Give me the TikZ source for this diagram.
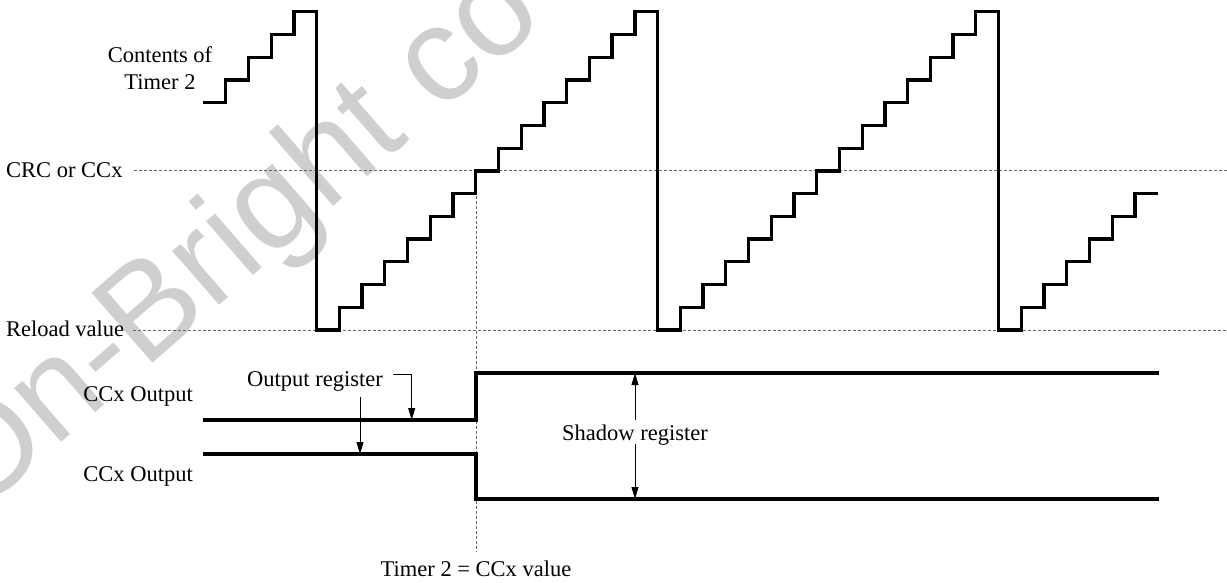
\documentclass[tikz,border=0pt]{standalone}
\usepackage{fontspec}
\setmainfont{Liberation Serif}
\newfontfamily\wmfont{Liberation Sans}
\usetikzlibrary{arrows.meta}
\begin{document}
\begin{tikzpicture}[x=1bp,y=-1bp,
  wave/.style={line width=3.3bp, line join=miter},
  guide/.style={line width=1bp, black!60, dash pattern=on 3bp off 2bp},
  arr/.style={line width=0.8bp, -{Triangle[length=12bp,width=7bp]}},
  lbl/.style={inner sep=0pt, font=\fontsize{22.5bp}{27bp}\selectfont},
  wmark/.style={rotate=41, anchor=base west, text=black!19, inner sep=0pt,
    font=\wmfont\fontsize{135bp}{135bp}\selectfont},
]
\useasboundingbox (0,0) rectangle (1227,583);
% watermark
\node[wmark] (wm) at (-25,518) {On-Bright co};

% guide lines
\node[lbl, anchor=base east] (crc) at (122.7,177.7) {CRC or CCx};
\node[lbl, anchor=base east] (reload) at (124.3,336.7) {Reload value};
\coordinate (crcR) at (1227,171);
\coordinate (relR) at (1227,330);
\draw[guide] (crc.east |- crcR) ++(11,0) -- (crcR);
\draw[guide] (reload.east |- relR) ++(9,0) -- (relR);
\coordinate (vTop) at (476,171);
\coordinate (vBot) at (476,551.5);
\draw[guide] (vTop) -- (vBot);

% timer contents waveform
\def\u{22.73}
\draw[wave] (203,{330-10*\u})
  \foreach \k in {1,...,4} { -| ({203+\k*\u},{330-(10+\k)*\u}) }
  -| (316.65,330)
  \foreach \k in {1,...,14} { -| ({316.65+\k*\u},{330-\k*\u}) }
  -| (657.6,330)
  \foreach \k in {1,...,14} { -| ({657.6+\k*\u},{330-\k*\u}) }
  -| (998.55,330)
  \foreach \k in {1,...,6} { -| ({998.55+\k*\u},{330-\k*\u}) }
  -- ({998.55+7*\u},{330-6*\u});

% outputs
\draw[wave] (203,420) -- (476,420) -- (476,373) -- (1158.5,373);
\draw[wave] (203,454) -- (476,454) -- (476,499) -- (1158.5,499);

% labels
\node[lbl, anchor=base] (cont1) at (160,62.3) {Contents of};
\node[lbl, anchor=base] (cont2) at (160,89.3) {Timer 2};
\node[lbl, anchor=base east] (out1) at (193,401.8) {CCx Output};
\node[lbl, anchor=base east] (out2) at (193,481.8) {CCx Output};
\node[lbl, anchor=base west] (outreg) at (247,386) {Output register};
\node[lbl, anchor=base] (shadow) at (635,440) {Shadow register};
\node[lbl, anchor=base] (eq) at (476,576.5) {Timer 2 = CCx value};

% arrows
\coordinate (oa) at (393,374.3);
\coordinate (oaEnd) at (411.7,420);
\coordinate (ob) at (360,396.7);
\coordinate (obEnd) at (360,454);
\draw[arr] (oa) -| (oaEnd);
\draw[arr] (ob) -- (obEnd);
\coordinate (sa) at (635,420);
\coordinate (saEnd) at (635,373);
\coordinate (sb) at (635,444);
\coordinate (sbEnd) at (635,499);
\draw[arr] (sa) -- (saEnd);
\draw[arr] (sb) -- (sbEnd);
\end{tikzpicture}
\end{document}
